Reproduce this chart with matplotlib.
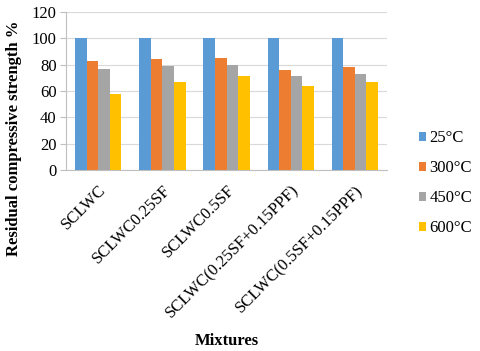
import numpy as np
import matplotlib.pyplot as plt

plt.rcParams['font.family'] = ['Liberation Serif', 'DejaVu Serif']

mixtures = ['SCLWC', 'SCLWC0.25SF', 'SCLWC0.5SF', 'SCLWC(0.25SF+0.15PPF)', 'SCLWC(0.5SF+0.15PPF)']
temps = ['25°C', '300°C', '450°C', '600°C']
t25 = [100, 100, 100, 100, 100]
t300 = [83, 84, 85, 76, 78]
t450 = [77, 79, 80, 71, 73]
t600 = [58, 67, 71, 64, 67]
colors = ['#5b9bd5', '#ed7d31', '#a5a5a5', '#ffc000']

fig = plt.figure(figsize=(4.8, 3.51), dpi=100)
ax = fig.add_axes([0.138, 0.516, 0.668, 0.45])

x = np.arange(len(mixtures))
w = 0.18
for i, (vals, lab) in enumerate(zip([t25, t300, t450, t600], temps)):
    ax.bar(x + (i - 1.5) * w, vals, w, color=colors[i], label=lab, zorder=3)

ax.set_ylim(0, 120)
ax.set_yticks(range(0, 121, 20))
ax.set_xlim(-0.5, len(mixtures) - 0.5)
ax.set_xticks(x)
ax.set_xticklabels(mixtures, rotation=45, ha='right', rotation_mode='anchor', fontsize=12)
ax.tick_params(axis='y', labelsize=12, length=4, color='#bfbfbf', pad=3)
ax.tick_params(axis='x', length=0, pad=9)
ax.grid(axis='y', color='#d9d9d9', linewidth=0.8, zorder=0)
for s in ['top', 'right']:
    ax.spines[s].set_visible(False)
ax.spines['bottom'].set_color('#bfbfbf')
ax.spines['left'].set_color('#bfbfbf')

fig.text(0.03, 0.607, 'Residual compressive strength %', fontsize=12, fontweight='bold',
         rotation=90, ha='center', va='center')
fig.text(0.473, 0.028, 'Mixtures', fontsize=12, fontweight='bold', ha='center', va='center')

ax.legend(loc='center left', bbox_to_anchor=(0.872, 0.478), bbox_transform=fig.transFigure,
          frameon=False, fontsize=12, handlelength=0.45, handleheight=0.45,
          labelspacing=0.85, handletextpad=0.2, borderaxespad=0, borderpad=0)

fig.savefig('out.png', dpi=100)
